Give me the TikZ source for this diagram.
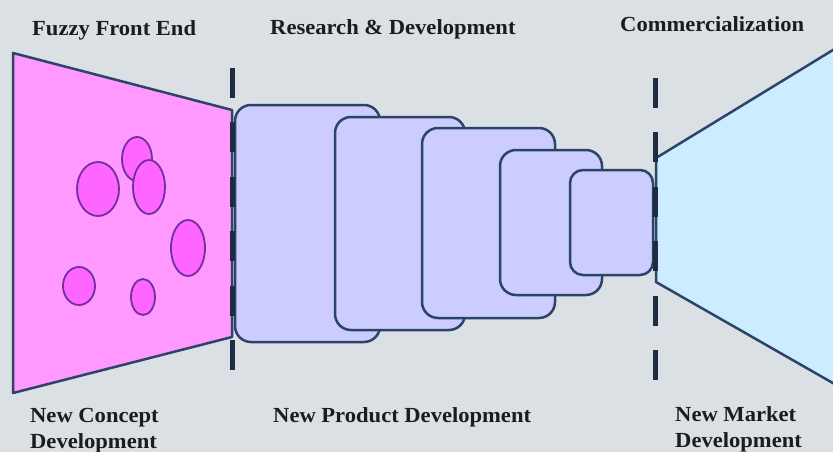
\documentclass[tikz,border=0pt]{standalone}
\usepackage{fontspec}
\setmainfont{Liberation Serif}[FakeStretch=1.05]
\definecolor{bg}{RGB}{218,224,227}
\definecolor{pinkfill}{RGB}{255,153,255}
\definecolor{bubble}{RGB}{255,102,255}
\definecolor{bubbleline}{RGB}{112,48,160}
\definecolor{lav}{RGB}{204,204,255}
\definecolor{sky}{RGB}{204,236,255}
\definecolor{edge}{RGB}{44,68,104}
\definecolor{dashc}{RGB}{30,43,64}
\definecolor{txt}{RGB}{28,28,28}
\tikzset{
  outl/.style={draw=edge, line width=2.5pt, line join=round},
  rbox/.style={outl, fill=lav, rounded corners=16pt, inner sep=0pt},
  bub/.style={draw=bubbleline, fill=bubble, line width=1.8pt},
  divider/.style={draw=dashc, line width=5pt, dash pattern=on 30pt off 24.4pt},
  lbl/.style={font=\bfseries\fontsize{21.5}{26}\selectfont, text=txt, inner sep=0pt, align=left}
}
\begin{document}
\begin{tikzpicture}[x=1pt,y=-1pt]
\fill[bg] (0,0) rectangle (833,452);
\useasboundingbox (0,0) rectangle (833,452);
\begin{scope}
\clip (0,0) rectangle (833,452);
% left funnel
\path[outl, fill=pinkfill] (13,53) -- (232,110) -- (232,337) -- (13,393) -- cycle;
% right funnel
\path[outl, fill=sky] (850,39.6) -- (656,158) -- (656,282) -- (850,392.8);
\end{scope}
% bubbles
\path[bub] (98,189) ellipse [x radius=21, y radius=27];
\path[bub] (137,159) ellipse [x radius=15, y radius=22];
\path[bub] (149,187) ellipse [x radius=16, y radius=27];
\path[bub] (188,248) ellipse [x radius=17, y radius=28];
\path[bub] (79,286) ellipse [x radius=16, y radius=19];
\path[bub] (143,297) ellipse [x radius=12, y radius=18];
% product development stages
\node[rbox, minimum width=145pt, minimum height=237pt] (r1) at (307.5,223.5) {};
\node[rbox, minimum width=130pt, minimum height=213pt] (r2) at (400,223.5) {};
\node[rbox, minimum width=133pt, minimum height=190pt] (r3) at (488.5,223) {};
\node[rbox, minimum width=102pt, minimum height=145pt] (r4) at (551,222.5) {};
\node[rbox, rounded corners=13pt, minimum width=83pt, minimum height=105pt] (r5) at (611.5,222.5) {};
% dividers
\coordinate (d1a) at (232,68);
\coordinate (d1b) at (232,372);
\coordinate (d2a) at (655,78);
\coordinate (d2b) at (655,382);
\draw[divider] (d1a) -- (d1b);
\draw[divider] (d2a) -- (d2b);
% labels
\node[lbl, anchor=base west] (ffe) at (32,36) {Fuzzy Front End};
\node[lbl, anchor=base west] (rd) at (270,35) {Research \& Development};
\node[lbl, anchor=base west] (com) at (620,32) {Commercialization};
\node[lbl, anchor=north west] (ncd) at (30,408) {New Concept\\Development};
\node[lbl, anchor=base west] (npd) at (273,422) {New Product Development};
\node[lbl, anchor=north west] (nmd) at (675,406) {New Market\\Development};
\end{tikzpicture}
\end{document}
